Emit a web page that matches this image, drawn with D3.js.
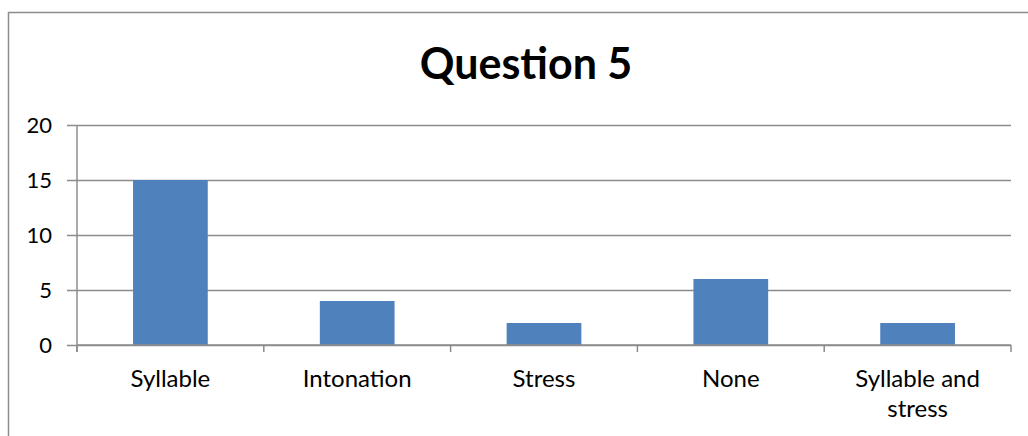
<!DOCTYPE html>
<html>
<head>
<meta charset="utf-8">
<script src="https://cdn.jsdelivr.net/npm/d3@7"></script>
<style>
  body { margin: 0; background: #fff; }
  svg { display: block; font-family: Lato, "Open Sans", sans-serif; }
</style>
</head>
<body>
<svg id="chart" width="1028" height="436"></svg>
<script>
"use strict";

var categories = ["Syllable", "Intonation", "Stress", "None", "Syllable and stress"];
var values = [15, 4, 2, 6, 2];
var yTicks = [0, 5, 10, 15, 20];

var svg = d3.select("#chart");
var plot = { left: 77, right: 1011, top: 125, bottom: 345 };

// outer chart frame (right and bottom edges are cut off in the picture)
svg.append("path")
    .attr("d", "M8.5,436 V12.5 H1028")
    .attr("fill", "none")
    .attr("stroke", "#8c8c8c")
    .attr("stroke-width", 1.5);

svg.append("text")
    .attr("x", 526)
    .attr("y", 79)
    .attr("text-anchor", "middle")
    .attr("font-size", 43)
    .attr("font-weight", "bold")
    .text("Question 5");

var x = d3.scaleBand()
    .domain(categories)
    .range([plot.left, plot.right])
    .paddingInner(0.6)
    .paddingOuter(0.3);

var y = d3.scaleLinear()
    .domain([0, 20])
    .range([plot.bottom, plot.top]);

// gridlines + y ticks
var yAxis = svg.append("g")
    .attr("transform", "translate(" + plot.left + ",0)")
    .call(d3.axisLeft(y)
        .tickValues(yTicks)
        .tickSize(-(plot.right - plot.left))
        .tickPadding(25)
        .tickFormat(d3.format("d")));
yAxis.select(".domain").remove();
yAxis.selectAll(".tick line")
    .attr("x1", -10)
    .attr("stroke", "#8c8c8c")
    .attr("stroke-width", 1.5);
yAxis.selectAll(".tick text")
    .attr("font-size", 22)
    .attr("fill", "#000")
    .attr("font-family", "Lato, sans-serif");

// y axis line
svg.append("line")
    .attr("x1", plot.left).attr("x2", plot.left)
    .attr("y1", plot.top).attr("y2", plot.bottom + 7)
    .attr("stroke", "#8c8c8c")
    .attr("stroke-width", 1.5);

// bars
svg.append("g")
    .selectAll("rect")
    .data(values)
    .join("rect")
    .attr("x", function (d, i) { return x(categories[i]); })
    .attr("y", function (d) { return y(d); })
    .attr("width", x.bandwidth())
    .attr("height", function (d) { return y(0) - y(d); })
    .attr("fill", "#4f81bd");

// x axis with ticks on category boundaries
var step = x.step();
var boundaries = d3.range(categories.length + 1).map(function (i) { return plot.left + i * step; });
svg.append("line")
    .attr("x1", plot.left).attr("x2", plot.right)
    .attr("y1", plot.bottom).attr("y2", plot.bottom)
    .attr("stroke", "#8c8c8c")
    .attr("stroke-width", 1.5);
svg.append("g")
    .selectAll("line")
    .data(boundaries)
    .join("line")
    .attr("x1", function (d) { return d; })
    .attr("x2", function (d) { return d; })
    .attr("y1", plot.bottom)
    .attr("y2", plot.bottom + 7)
    .attr("stroke", "#8c8c8c")
    .attr("stroke-width", 1.5);

// category labels, wrapped like the original
var labelLines = {
    "Syllable and stress": ["Syllable and", "stress"]
};
var labels = svg.append("g")
    .selectAll("text")
    .data(categories)
    .join("text")
    .attr("x", function (d) { return x(d) + x.bandwidth() / 2; })
    .attr("y", 387)
    .attr("text-anchor", "middle")
    .attr("font-size", 24)
    .attr("fill", "#000");
labels.each(function (d) {
    var lines = labelLines[d] || [d];
    var t = d3.select(this);
    lines.forEach(function (line, i) {
        t.append("tspan")
            .attr("x", t.attr("x"))
            .attr("dy", i === 0 ? 0 : 30)
            .text(line);
    });
});
</script>
</body>
</html>
